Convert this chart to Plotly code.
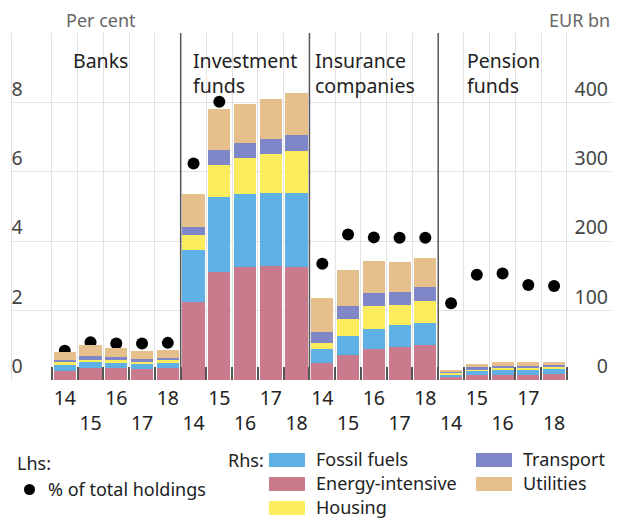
import plotly.graph_objects as go

# page body has an 8px margin: keep the figure inside the window so nothing scrolls
OFF = 8
W, H = 619 - 2 * OFF, 526 - 2 * OFF
# plot area on screen: x 12..611, y 33..380
L, R, T, B = 12 - OFF, 0, 33 - OFF, H - (380 - OFF)

GROUPS = ["Banks", "Investment<br>funds", "Insurance<br>companies", "Pension<br>funds"]
YEARS = ["14", "15", "16", "17", "18"]

# EUR bn (rhs), bottom to top
energy = [13, 17, 17, 16, 17, 112, 156, 163, 164, 163, 24, 36, 45, 47.6, 51, 4.5, 7, 7.5, 7.5, 8]
fossil = [8.5, 9, 8, 7, 8, 76, 107, 105, 106, 107, 20, 27, 29, 32, 31, 4, 6.3, 7, 7, 7.5]
housing = [4, 3.5, 4, 3.5, 3.5, 20.6, 47, 52, 55, 59.5, 9, 25, 32, 28, 32, 2, 2, 3, 3, 3]
transport = [3, 5, 3.5, 3.5, 3, 12.4, 21, 21, 22.6, 23.5, 16, 18, 19, 19.6, 20, 2, 2.8, 3, 3, 3]
utilities = [12, 16.5, 14, 12, 11.5, 46.6, 59, 56.6, 58, 60, 48.6, 52, 46, 43, 42, 2.5, 4.4, 5, 5, 5]

# % of total holdings (lhs)
share = [0.84, 1.09, 1.05, 1.05, 1.07, 6.24, 8.02, 7.73, 7.41, 7.33,
         3.35, 4.19, 4.11, 4.10, 4.10, 2.21, 3.03, 3.07, 2.74, 2.71]

SERIES = [
    ("Energy-intensive", energy, "#c97a8d"),
    ("Fossil fuels", fossil, "#5eb0e5"),
    ("Housing", housing, "#fbec5d"),
    ("Transport", transport, "#7f87c9"),
    ("Utilities", utilities, "#e5c08d"),
]

FONT = "Noto Sans"
FS = 19.5
LFS = 18
TXT = "#222222"
GRID = "#e3e3e3"

n = len(YEARS)
xs = list(range(len(GROUPS) * n))
ticktext = [YEARS[i % n] if i % 2 == 0 else "<br>" + YEARS[i % n] for i in xs]
bounds = [i - 0.5 for i in range(len(xs) + 1)]
# bar slots span screen x 52..567
xrange = [-2.05, len(xs) - 0.5 + 1.71]


def px(x, y):
    # screen pixel position -> paper coords
    x, y = x - OFF, y - OFF
    return (x - L) / (W - L - R), (H - B - y) / (H - T - B)


fig = go.Figure()

for name, vals, col in SERIES:
    fig.add_trace(go.Bar(
        x=xs, y=vals, name=name, marker=dict(color=col, line_width=0),
        width=0.86, xaxis="x2", yaxis="y2", showlegend=False,
    ))

fig.add_trace(go.Scatter(
    x=xs, y=share, mode="markers", name="% of total holdings",
    marker=dict(color="black", size=12), showlegend=False,
))

# panel dividers
for g in range(1, len(GROUPS)):
    fig.add_shape(type="line", xref="x", yref="paper", x0=g * n - 0.5, x1=g * n - 0.5,
                  y0=0, y1=1, line=dict(color="#555555", width=1.5), layer="above")

# panel labels
label_pos = [(100, "center"), (191, "left"), (313, "left"), (465, "left")]
for g, (lx, anc) in zip(GROUPS, label_pos):
    ax, ay = px(lx, 45)
    fig.add_annotation(x=ax, y=ay, xref="paper", yref="paper", text=g, showarrow=False,
                       xanchor=anc, yanchor="top", align="left",
                       font=dict(size=FS, color=TXT, family=FONT))

# axis unit labels
for t, lx, anc in [("Per cent", 64, "left"), ("EUR bn", 612, "right")]:
    ax, ay = px(lx, 20)
    fig.add_annotation(x=ax, y=ay, xref="paper", yref="paper", text=t, showarrow=False,
                       xanchor=anc, yanchor="middle",
                       font=dict(size=18, color="#666666", family=FONT))


# legend, drawn by hand
def legend_text(text, x, y, anc="left"):
    ax, ay = px(x, y)
    fig.add_annotation(x=ax, y=ay, xref="paper", yref="paper", text=text, showarrow=False,
                       xanchor=anc, yanchor="middle", borderpad=0,
                       font=dict(size=LFS, color=TXT, family=FONT))


def swatch(col, x, y):
    x0, y0 = px(x, y + 7)
    x1, y1 = px(x + 36, y - 7)
    fig.add_shape(type="rect", xref="paper", yref="paper", x0=x0, x1=x1, y0=y0, y1=y1,
                  line_width=0, fillcolor=col)


legend_text("Lhs:", 16, 463)
c0x, c0y = px(24, 495)
c1x, c1y = px(35, 484)
fig.add_shape(type="circle", xref="paper", yref="paper", x0=c0x, x1=c1x, y0=c0y, y1=c1y,
              line_width=0, fillcolor="black")
legend_text("% of total holdings", 47, 489)
legend_text("Rhs:", 265, 460, "right")

legend_slots = {
    "Fossil fuels": (269, 460), "Energy-intensive": (269, 484), "Housing": (269, 508),
    "Transport": (476, 460), "Utilities": (476, 484),
}
for name, vals, col in SERIES:
    sx, sy = legend_slots[name]
    swatch(col, sx, sy)
    legend_text(name, sx + 46, sy - 1)

fig.update_layout(
    width=W, height=H,
    margin=dict(l=L, r=R, t=T, b=B),
    plot_bgcolor="white", paper_bgcolor="white",
    barmode="stack", showlegend=False,
    font=dict(family=FONT, size=FS, color=TXT),
    xaxis=dict(range=xrange, tickmode="array", tickvals=xs, ticktext=ticktext,
               showgrid=False, zeroline=False, ticks="", tickfont=dict(size=FS),
               ticklabelstandoff=4),
    xaxis2=dict(range=xrange, overlaying="x", tickmode="array", tickvals=bounds,
                showgrid=True, gridcolor=GRID, showticklabels=False, zeroline=False,
                ticks="inside", ticklen=13, tickwidth=1.5, tickcolor="#555555",
                anchor="y", side="bottom"),
    yaxis=dict(range=[0, 10], tickmode="array", tickvals=[0, 2, 4, 6, 8, 10],
               ticktext=["0", "2", "4", "6", "8", ""], showgrid=True, gridcolor=GRID,
               zeroline=False, showline=True, linecolor=GRID,
               ticklabelposition="inside top", tickfont=dict(size=FS)),
    yaxis2=dict(range=[0, 500], overlaying="y", side="right", tickmode="array",
                tickvals=[0, 100, 200, 300, 400], showgrid=False, zeroline=False,
                ticklabelposition="inside top", tickfont=dict(size=FS)),
)

fig.write_html("out.html")
